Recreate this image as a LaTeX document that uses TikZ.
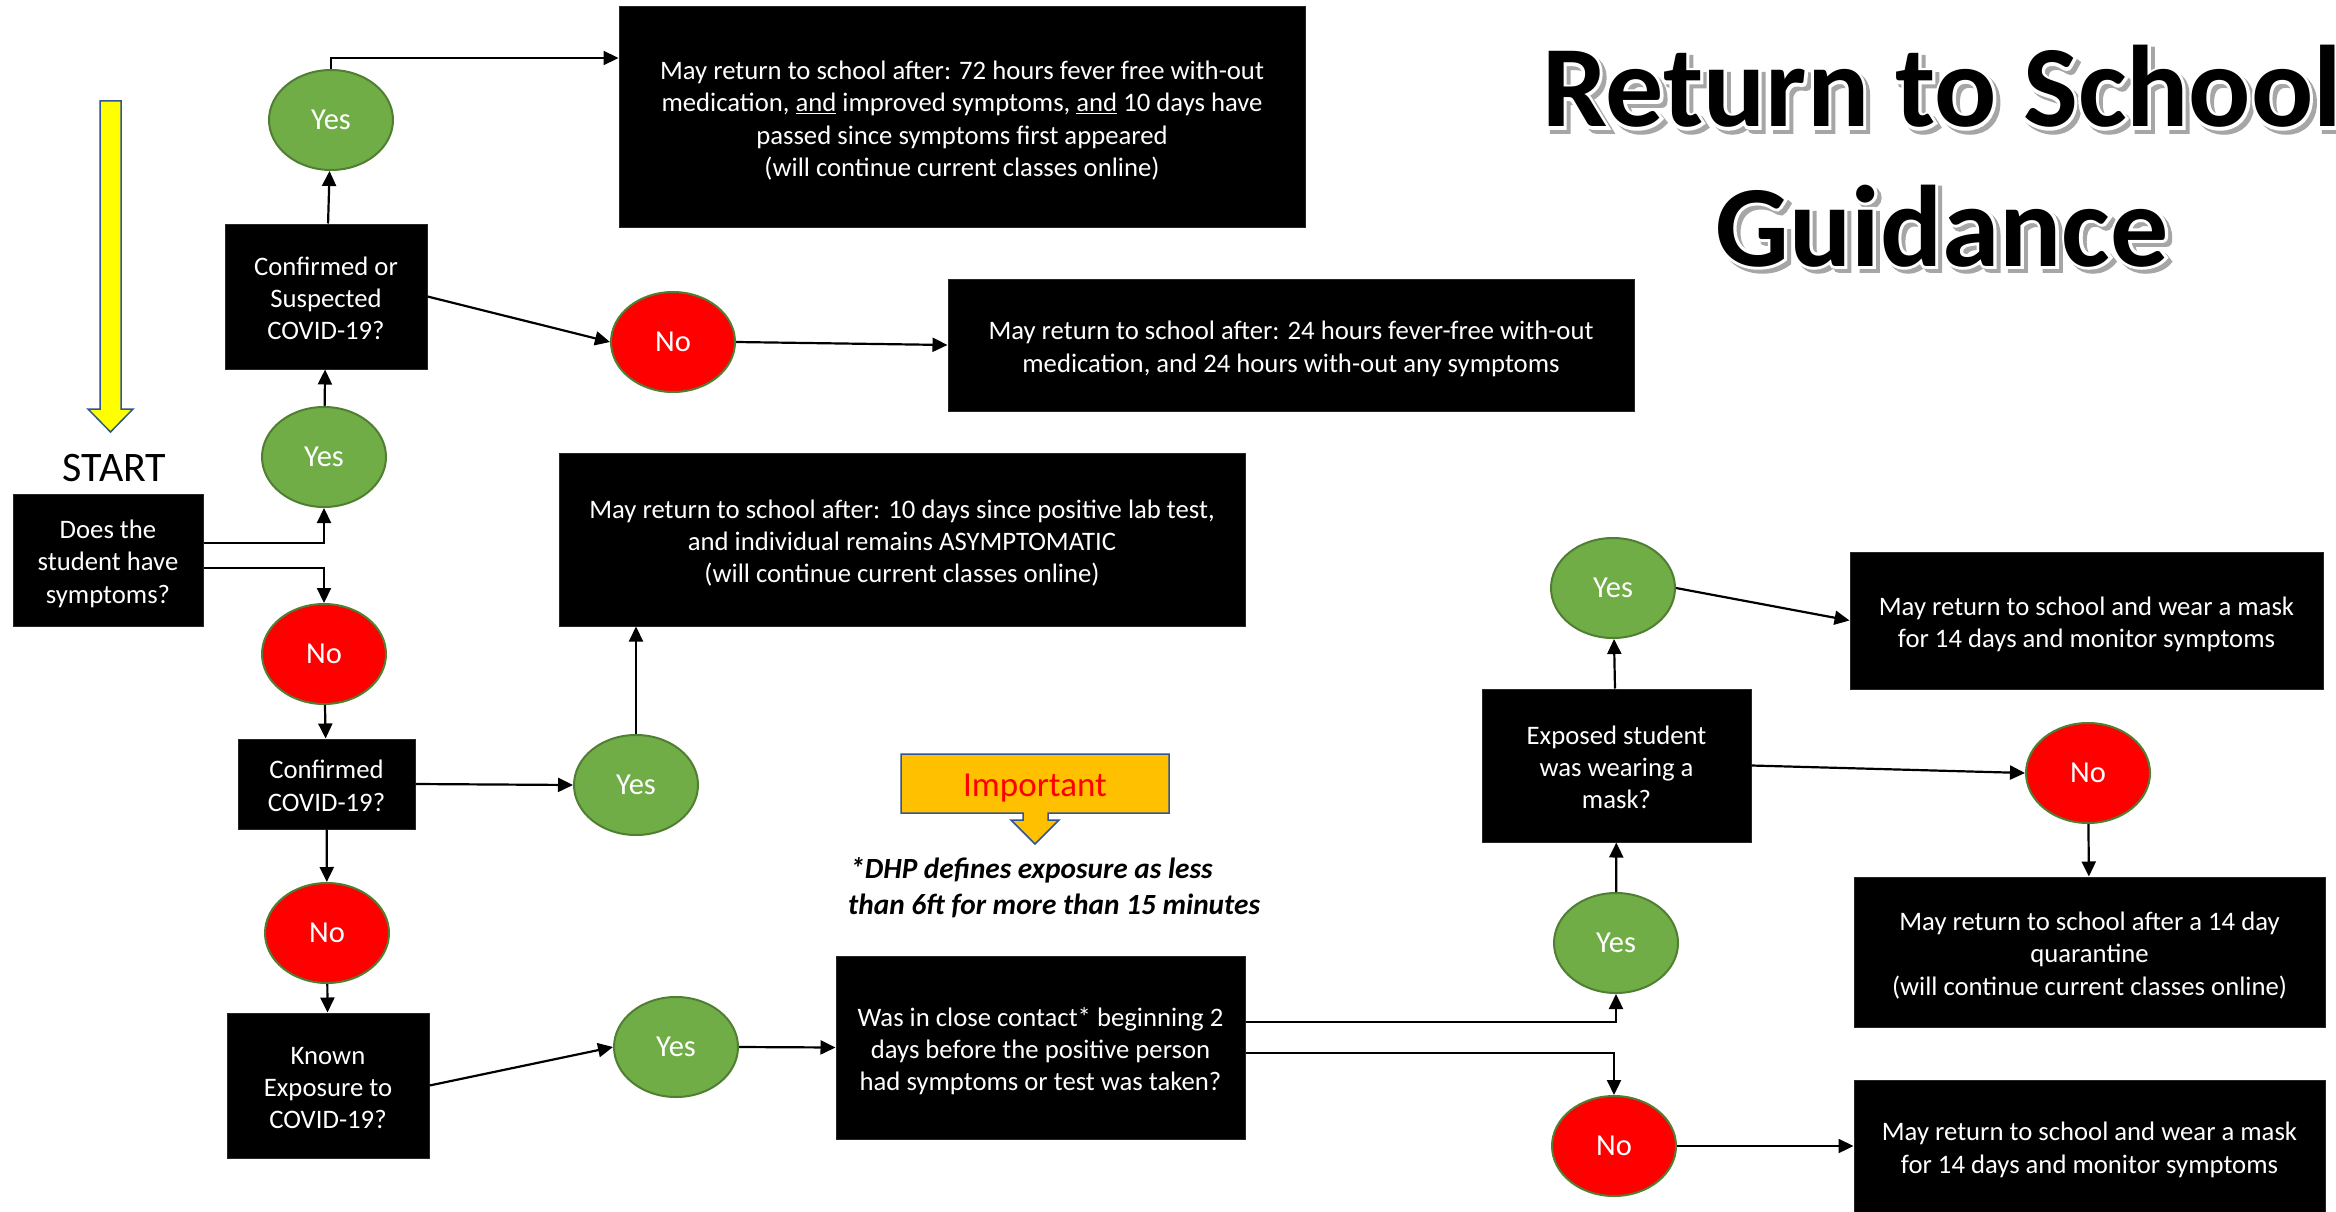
\documentclass[tikz,border=0pt]{standalone}
\usepackage{fontspec}
\setmainfont{Carlito}
\newfontfamily\ttlout{Carlito}[BoldFeatures={FakeBold=5}]
\usetikzlibrary{arrows.meta,shapes.geometric,calc}
\definecolor{cgreen}{HTML}{70AD47}
\definecolor{cgreenline}{HTML}{507E32}
\definecolor{cred}{HTML}{FF0000}
\definecolor{cgold}{HTML}{FFC000}
\definecolor{cblue}{HTML}{2F5597}
\definecolor{cyel}{HTML}{FFFF00}
\definecolor{cshadow}{HTML}{A6A6A6}
\newcommand{\bt}[1]{\raisebox{-4.5pt}[\height][\depth]{\begin{tabular}{@{}c@{}}#1\end{tabular}}}
\begin{document}
\begin{tikzpicture}[x=1pt,y=-1pt,
  blk/.style={rectangle,fill=black,draw=black!85,line width=1pt,text=white,inner sep=0pt,font=\fontsize{26.7}{32.4}\selectfont},
  ybub/.style={ellipse,fill=cgreen,draw=cgreenline,line width=2pt,minimum width=124pt,minimum height=100pt,inner sep=0pt,text=white,font=\fontsize{30.5}{36}\selectfont},
  nbub/.style={ybub,fill=cred},
  arr/.style={line width=2.2pt,-{Triangle[length=15pt,width=14pt]}},
  ttl/.style={inner sep=0pt,anchor=base,font=\fontsize{116}{130}\selectfont\bfseries},
  ttlo/.style={inner sep=0pt,anchor=base,font=\fontsize{116}{130}\ttlout\bfseries}]
\useasboundingbox (0,0) rectangle (2336,1212);
\fill[white] (0,0) rectangle (2336,1212);

% title with shadow and white outline
\node[ttlo,text=cshadow] (sh1) at (1946,131) {Return to School};
\node[ttlo,text=cshadow] (sh2) at (1946,270) {Guidance};
\node[ttlo,text=white] (ol1) at (1942,127) {Return to School};
\node[ttlo,text=white] (ol2) at (1942,266) {Guidance};
\node[ttl,text=black] (title1) at (1942,127) {Return to School};
\node[ttl,text=black] (title2) at (1942,266) {Guidance};

% start arrow and label
\draw[fill=cyel,draw=cblue,line width=1.5pt] (100,101) -- (121,101) -- (121,409) -- (133,409) -- (110.5,432) -- (88,409) -- (100,409) -- cycle;
\node[inner sep=0pt,anchor=base,font=\fontsize{42}{48}\selectfont] (start) at (114.5,481) {START};

% boxes
\node[blk,minimum width=190pt,minimum height=132pt] (does) at (108,560) {\bt{Does the\\student have\\symptoms?}};
\node[blk,minimum width=202pt,minimum height=145pt] (c1) at (326,296.5) {\bt{Confirmed or\\Suspected\\COVID-19?}};
\node[blk,minimum width=686pt,minimum height=220pt] (top) at (962,117) {\bt{May return to school after: 72 hours fever free with-out\\medication, \underline{and} improved symptoms, \underline{and} 10 days have\\passed since symptoms first appeared\\(will continue current classes online)}};
\node[blk,minimum width=686pt,minimum height=132pt] (b2) at (1291,345) {\bt{May return to school after: 24 hours fever-free with-out\\medication, and 24 hours with-out any symptoms}};
\node[blk,minimum width=686pt,minimum height=173pt] (b3) at (902,539.5) {\bt{May return to school after: 10 days since positive lab test,\\and individual remains ASYMPTOMATIC\\(will continue current classes online)}};
\node[blk,minimum width=177pt,minimum height=90pt] (c2) at (326.5,784) {\bt{Confirmed\\COVID-19?}};
\node[blk,minimum width=202pt,minimum height=145pt] (known) at (328,1085.5) {\bt{Known\\Exposure to\\COVID-19?}};
\node[blk,minimum width=409pt,minimum height=183pt] (was) at (1040.5,1047.5) {\bt{Was in close contact* beginning 2\\days before the positive person\\had symptoms or test was taken?}};
\node[blk,minimum width=269pt,minimum height=153pt] (exp) at (1616.5,765.5) {\bt{Exposed student\\was wearing a\\mask?}};
\node[blk,minimum width=473pt,minimum height=137pt] (tr) at (2086.5,620.5) {\bt{May return to school and wear a mask\\for 14 days and monitor symptoms}};
\node[blk,minimum width=471pt,minimum height=150pt] (quar) at (2089.5,952) {\bt{May return to school after a 14 day\\quarantine\\(will continue current classes online)}};
\node[blk,minimum width=471pt,minimum height=132pt] (br) at (2089.5,1146) {\bt{May return to school and wear a mask\\for 14 days and monitor symptoms}};

% bubbles
\node[ybub] (y1) at (331,120) {Yes};
\node[nbub] (n1) at (673,342) {No};
\node[ybub] (y2) at (324,457) {Yes};
\node[nbub] (n2) at (324,654) {No};
\node[ybub] (y3) at (636,785) {Yes};
\node[nbub] (n3) at (327,933) {No};
\node[ybub] (y4) at (676,1047) {Yes};
\node[ybub] (y5) at (1613,588) {Yes};
\node[nbub] (n5) at (2088,773) {No};
\node[ybub] (y6) at (1616,943) {Yes};
\node[nbub] (n6) at (1614,1146) {No};

% important callout
\draw[fill=cgold,draw=cblue,line width=1.5pt] (901,754) -- (1169,754) -- (1169,813) -- (1048,813) -- (1048,820) -- (1059,820) -- (1035,844) -- (1011,820) -- (1023,820) -- (1023,813) -- (901,813) -- cycle;
\node[inner sep=0pt,anchor=base,text=cred,font=\fontsize{35}{42}\selectfont] (imp) at (1035,796) {Important};
\node[inner sep=0pt,anchor=base west,font=\fontsize{29.3}{36}\bfseries\itshape\selectfont] (dhp1) at (850,878) {*DHP defines exposure as less};
\node[inner sep=0pt,anchor=base west,font=\fontsize{29.3}{36}\bfseries\itshape\selectfont] (dhp2) at (848,914) {than 6ft for more than 15 minutes};

% connectors
\draw[arr] ([yshift=17pt]does.east) -| (y2.south);
\draw[arr] ([yshift=-8pt]does.east) -| (n2.north);
\draw[arr] (y2) -- (c1);
\draw[arr] (c1) -- (y1);
\draw[arr] (y1.north) |- ([yshift=59pt]top.west);
\draw[arr] (c1.east) -- (n1.west);
\draw[arr] (n1.east) -- (b2.west);
\draw[arr] (n2) -- (c2);
\draw[arr] (c2.east) -- (y3.west);
\draw[arr] (y3.north) -- (y3.north |- b3.south);
\draw[arr] (c2) -- (n3);
\draw[arr] (n3) -- (known);
\draw[arr] (known.east) -- (y4.west);
\draw[arr] (y4.east) -- (was.west);
\draw[arr] ([yshift=25.5pt]was.east) -| (y6.south);
\draw[arr] ([yshift=-5.5pt]was.east) -| (n6.north);
\draw[arr] (y6) -- (exp);
\draw[arr] (exp) -- (y5);
\draw[arr] (y5.east) -- (tr.west);
\draw[arr] (exp.east) -- (n5.west);
\draw[arr] (n5) -- (quar);
\draw[arr] (n6.east) -- (br.west);
\end{tikzpicture}
\end{document}
